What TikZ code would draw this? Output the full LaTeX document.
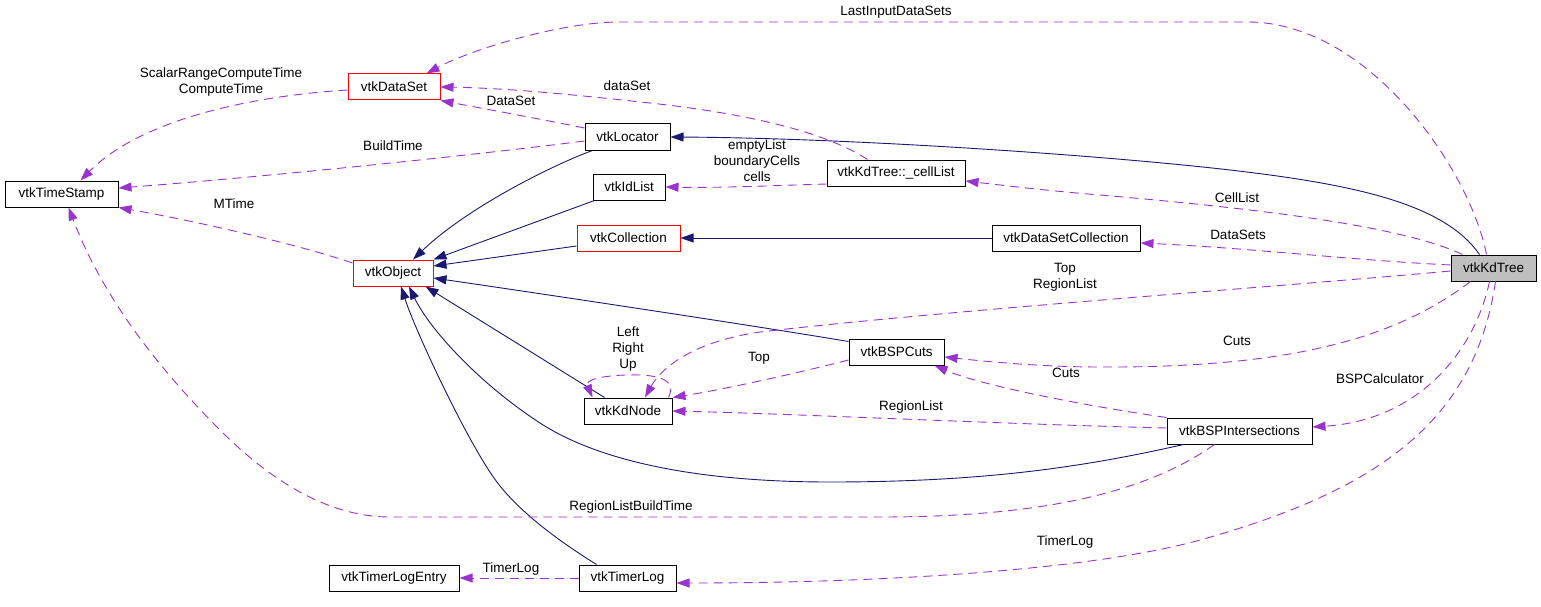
\documentclass[tikz,border=0pt]{standalone}
\usepackage{fontspec}
\setmainfont{Liberation Sans}
\usetikzlibrary{arrows.meta,calc}
\definecolor{inhc}{HTML}{191970}
\definecolor{usec}{HTML}{9A32CD}
\definecolor{grayfill}{HTML}{BFBFBF}
\begin{document}
\begin{tikzpicture}[x=1pt,y=-1pt,
  cls/.style={draw=black, line width=1pt, minimum height=26pt, inner sep=0pt, font=\fontsize{13.5}{16}\selectfont, fill=white},
  redcls/.style={cls, draw=red},
  inh/.style={draw=inhc, line width=0.9pt, -{Triangle[length=13pt,width=9pt]}},
  use/.style={draw=usec, line width=0.9pt, dash pattern=on 9pt off 6pt, -{Triangle[length=13pt,width=9pt]}},
  lbl/.style={font=\fontsize{13.5}{16}\selectfont, align=center, inner sep=0pt}]
\useasboundingbox (0,0) rectangle (1541,607);
\fill[white] (0,0) rectangle (1541,607);
% nodes
\node[cls, minimum width=113pt] (ts) at (61.5,194) {vtkTimeStamp};
\node[redcls, minimum width=92pt] (ds) at (394,87) {vtkDataSet};
\node[cls, minimum width=85pt] (loc) at (627.5,137) {vtkLocator};
\node[cls, minimum width=72pt] (idl) at (629,187) {vtkIdList};
\node[redcls, minimum width=103pt] (coll) at (628.5,238) {vtkCollection};
\node[redcls, minimum width=80pt] (obj) at (393,273) {vtkObject};
\node[cls, minimum width=138pt] (cl) at (896,173) {vtkKdTree::\_cellList};
\node[cls, minimum width=148pt] (dsc) at (1066,238) {vtkDataSetCollection};
\node[cls, fill=grayfill, minimum width=85pt] (kd) at (1493.5,268) {vtkKdTree};
\node[cls, minimum width=95pt] (cuts) at (896.5,352) {vtkBSPCuts};
\node[cls, minimum width=88pt] (kdn) at (628,411) {vtkKdNode};
\node[cls, minimum width=145pt] (bspi) at (1239.5,431) {vtkBSPIntersections};
\node[cls, minimum width=130pt] (tle) at (394,578) {vtkTimerLogEntry};
\node[cls, minimum width=97pt] (tl) at (627.5,578) {vtkTimerLog};
% inheritance
\draw[inh] ($(kd.north west)+(29,0)$) .. controls (1445,205) and (1360,185) .. (1230,170) .. controls (1100,155) and (850,138) .. (loc.east);
\draw[inh] ($(idl.south west)+(2,0)$) -- (obj.north east);
\draw[inh] ($(loc.south west)+(8,0)$) .. controls (560,162) and (470,205) .. ($(obj.north)+(20,0)$);
\draw[inh] ($(coll.west)+(0,8)$) -- ($(obj.east)+(0,-7)$);
\draw[inh] ($(cuts.north west)+(0,3)$) .. controls (750,325) and (550,295) .. ($(obj.east)+(0,5)$);
\draw[inh] ($(kdn.north west)+(21,0)$) -- ($(obj.south east)+(-8,0)$);
\draw[inh] ($(bspi.south west)+(17,0)$) .. controls (1080,468) and (980,482) .. (830,482) .. controls (700,482) and (600,462) .. (540,423) .. controls (480,384) and (430,330) .. ($(obj.south)+(16,0)$);
\draw[inh] ($(tl.north west)+(18,0)$) .. controls (570,548) and (520,515) .. (494,478) .. controls (465,437) and (415,330) .. ($(obj.south)+(8,0)$);
\draw[inh] (dsc.west) -- (coll.east);
% usage
\draw[use] ($(kd.north west)+(36,0)$) .. controls (1470,170) and (1370,24) .. (1250,22) -- (620,22) .. controls (560,22) and (470,50) .. ($(ds.north east)+(-14,0)$);
\node[lbl] (l1) at (896,12) {LastInputDataSets};
\draw[use] ($(ds.west)+(0,3)$) .. controls (250,96) and (140,120) .. ($(ts.north)+(19,0)$);
\node[lbl] (l2) at (221,82) {ScalarRangeComputeTime\\ComputeTime};
\draw[use] ($(loc.west)+(0,-9)$) .. controls (530,117) and (480,108) .. (ds.south east);
\node[lbl] (l3) at (511,101) {DataSet};
\draw[use] ($(loc.west)+(0,4)$) .. controls (450,158) and (250,178) .. ($(ts.east)+(0,-6)$);
\node[lbl] (l4) at (393,146) {BuildTime};
\draw[use] ($(obj.west)+(0,-10)$) .. controls (300,245) and (200,222) .. (ts.south east);
\node[lbl] (l5) at (234,204) {MTime};
\draw[use] ($(bspi.south west)+(48,0)$) .. controls (1150,490) and (1050,517) .. (880,517) -- (390,517) .. controls (320,517) and (260,470) .. (220,430) .. controls (150,360) and (100,290) .. ($(ts.south)+(7,0)$);
\node[lbl] (l6) at (631,507) {RegionListBuildTime};
\draw[use] ($(cl.north west)+(41,0)$) .. controls (830,135) and (760,115) .. (650,103) .. controls (560,93) and (500,88) .. (ds.east);
\node[lbl] (l7) at (627,86) {dataSet};
\draw[use] ($(cl.west)+(0,11)$) .. controls (760,186) and (720,188) .. (idl.east);
\node[lbl] (l8) at (757,161) {emptyList\\boundaryCells\\cells};
\draw[use] ($(kd.north west)+(12,0)$) .. controls (1400,225) and (1250,208) .. (1100,195) .. controls (1050,191) and (1000,185) .. ($(cl.east)+(0,8)$);
\node[lbl] (l9) at (1237,198) {CellList};
\draw[use] ($(kd.west)+(0,-3)$) .. controls (1350,260) and (1250,248) .. ($(dsc.east)+(0,5)$);
\node[lbl] (l10) at (1238,235) {DataSets};
\draw[use] ($(kd.west)+(0,3)$) .. controls (1300,285) and (950,310) .. (760,332) .. controls (690,342) and (660,370) .. ($(kdn.north)+(17,0)$);
\node[lbl] (l11) at (1065,277) {Top\\RegionList};
\draw[use] ($(kd.south west)+(20,0)$) .. controls (1400,335) and (1300,368) .. (1100,367) .. controls (1050,367) and (1000,363) .. ($(cuts.east)+(0,5)$);
\node[lbl] (l12) at (1237,341) {Cuts};
\draw[use] ($(kd.south)+(-4,0)$) .. controls (1475,350) and (1420,420) .. ($(bspi.east)+(0,-4)$);
\node[lbl] (l13) at (1380,379) {BSPCalculator};
\draw[use] ($(kd.south)+(2,0)$) .. controls (1475,420) and (1380,490) .. (1200,540) .. controls (1100,568) and (900,583) .. ($(tl.east)+(0,5)$);
\node[lbl] (l14) at (1065,542) {TimerLog};
\draw[use] (bspi.north west) .. controls (1080,405) and (980,385) .. ($(cuts.south east)+(-10,0)$);
\node[lbl] (l15) at (1066,373) {Cuts};
\draw[use] ($(bspi.west)+(0,-3)$) .. controls (1000,424) and (800,414) .. (kdn.east);
\node[lbl] (l16) at (911,407) {RegionList};
\draw[use] ($(cuts.west)+(0,8)$) .. controls (790,375) and (720,390) .. (kdn.north east);
\node[lbl] (l17) at (759,358) {Top};
\draw[use] ($(kdn.north east)+(-4,0)$) .. controls (678,378) and (655,374) .. (625,375) .. controls (600,376) and (585,380) .. ($(kdn.north west)+(9,0)$);
\node[lbl] (l18) at (628,349) {Left\\Right\\Up};
\draw[use] (tl.west) -- (tle.east);
\node[lbl] (l19) at (511,569) {TimerLog};
\end{tikzpicture}
\end{document}
